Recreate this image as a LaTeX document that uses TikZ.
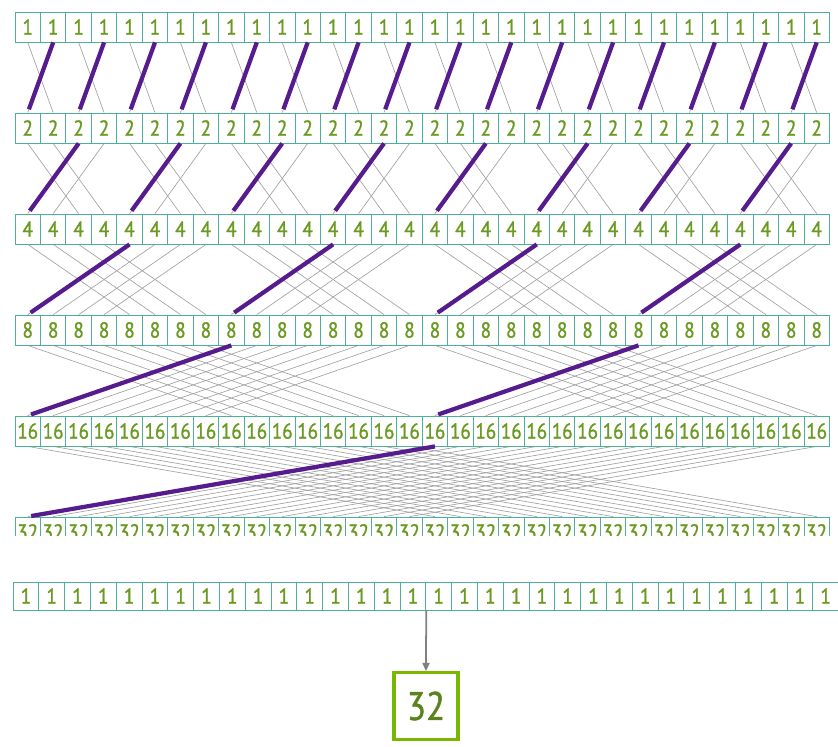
\documentclass[tikz,border=0pt]{standalone}
\usepackage{fontspec}
\setmainfont{PT Sans}
\newfontfamily\cifre[FakeStretch=0.88, FakeBold=1.2]{PT Sans}
\usetikzlibrary{arrows.meta, backgrounds}
\definecolor{bordo}{HTML}{4FB09A}
\definecolor{cifra}{HTML}{6A9A22}
\definecolor{viola}{HTML}{561B8D}
\definecolor{verde}{HTML}{7AB800}
\definecolor{grigio}{HTML}{A0A0A0}

\begin{document}
\begin{tikzpicture}[x=0.03cm, y=-0.03cm,
    cella/.style={draw=bordo, line width=0.7pt, fill=white, inner sep=0pt,
        minimum width=0.7635cm, minimum height=0.9cm, text=cifra,
        font=\cifre\fontsize{18.5}{18.5}\selectfont},
    filo/.style={grigio, line width=0.55pt},
    somma/.style={viola, line width=3.6pt},
    risultato/.style={draw=verde, line width=2.6pt, inner sep=0pt,
        minimum width=1.92cm, minimum height=2cm, text=cifra!85!black,
        font=\cifre\fontsize{34}{34}\selectfont},
    freccia/.style={-{Triangle[length=7pt, width=6pt]}, gray, line width=1.5pt}]
        \useasboundingbox (0,0) rectangle (838,746);
        %disegno righe dell'albero
        \foreach \v [count=\r from 0] in {1,2,4,8,16}
            \foreach \i in {0,...,31}
                \node[cella] (r\v-\i) at ({15+25.45*(\i+0.5)},{27+101*\r}) {\v};
        %disegno riga del 32, tagliata sotto
        \begin{scope}
            \clip (0,505) rectangle (838,535);
            \foreach \i in {0,...,31}
                \node[cella] (r32-\i) at ({15+25.45*(\i+0.5)},532) {32};
        \end{scope}
        %disegno fili grigi, sotto le celle
        \begin{scope}[on background layer]
            \foreach \s/\t in {1/2,2/4,4/8,8/16,16/32}
                \foreach \i in {0,...,31} {
                    \pgfmathtruncatemacro\j{\i+\s*(1-2*mod(floor(\i/\s),2))}
                    \draw[filo] (r\s-\i.south) -- (r\t-\j.north);
                }
        \end{scope}
        %disegno somme viola
        \foreach \s/\t in {1/2,2/4,4/8,8/16,16/32} {
            \pgfmathtruncatemacro\n{16/\s-1}
            \foreach \g in {0,...,\n} {
                \pgfmathtruncatemacro\a{2*\s*\g+\s}
                \pgfmathtruncatemacro\b{2*\s*\g}
                \draw[somma, shorten >=3pt] (r\s-\a.south) -- (r\t-\b.north);
            }
        }
        %disegno riga di uni e risultato
        \begin{scope}
            \clip (0,570) rectangle (838,620);
            \foreach \i in {0,...,31}
                \node[cella, minimum width=0.774cm, minimum height=0.84cm] (u\i) at ({13+25.8*(\i+0.5)},596) {1};
        \end{scope}
        \node[risultato] (tot) at (426,706) {32};
        \draw[freccia] (u15.south east) -- (tot.north);
\end{tikzpicture}
\end{document}
